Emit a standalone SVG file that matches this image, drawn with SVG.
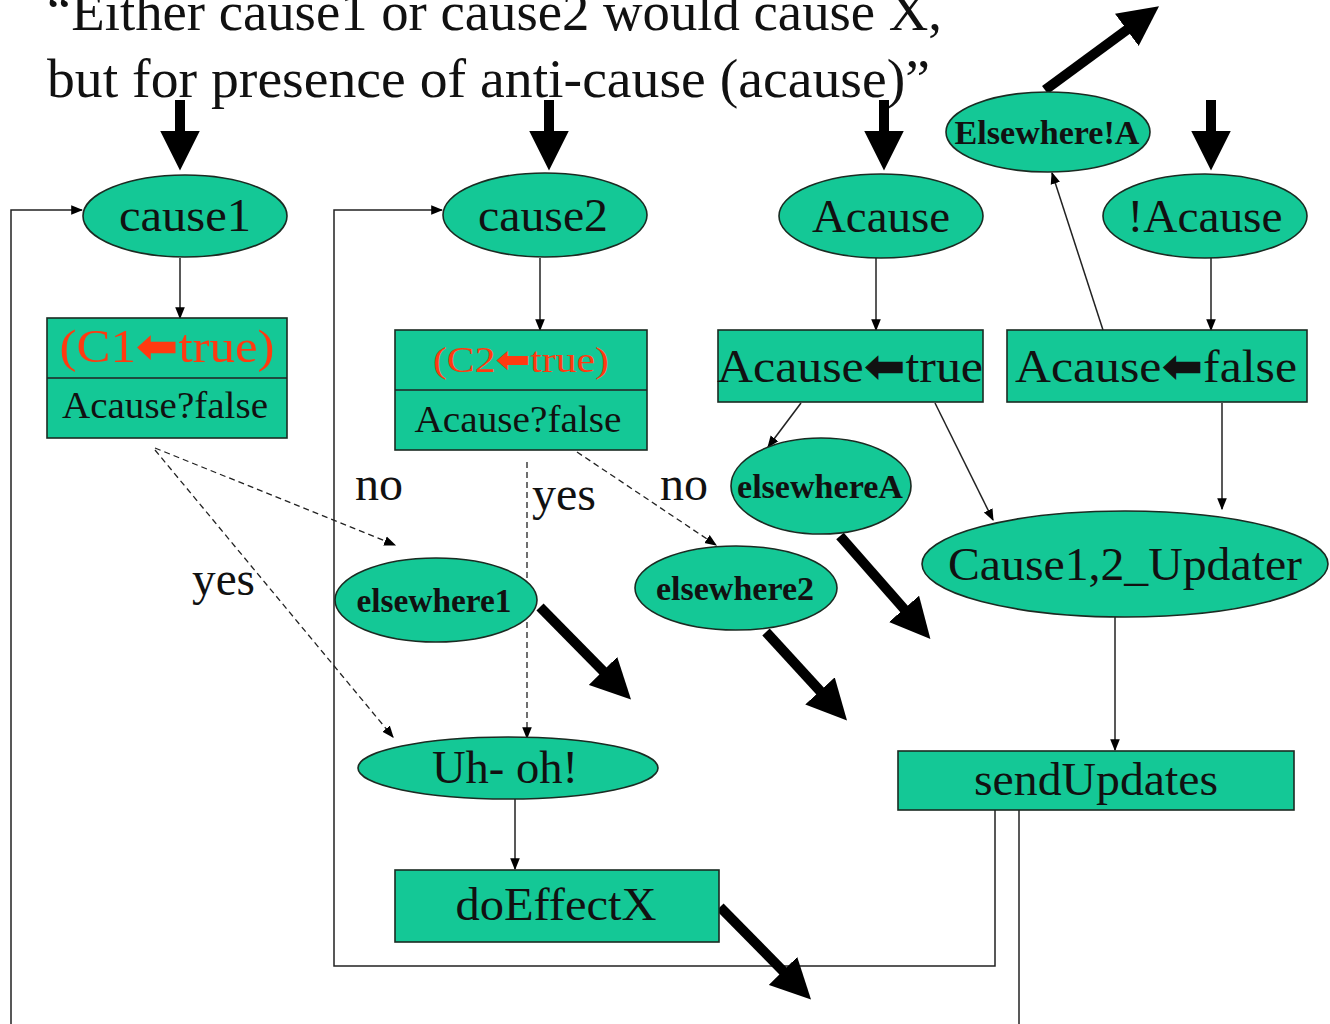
<svg xmlns="http://www.w3.org/2000/svg" width="1330" height="1024" viewBox="0 0 1330 1024">
<style>
.n{fill:#14C896;stroke:#1b2b22;stroke-width:1.6}
.t{font-family:"Liberation Serif","Times New Roman",serif;fill:#111;text-anchor:middle}
.b{font-weight:bold}
.red{fill:#FF3A10}
.ar{font-family:"DejaVu Sans",sans-serif;font-weight:bold}
.c{fill:none;stroke:#222;stroke-width:1.5}
.d{fill:none;stroke:#222;stroke-width:1.3;stroke-dasharray:6 4}
.k{fill:none;stroke:#000;stroke-width:10}
.lab{font-family:"Liberation Serif","Times New Roman",serif;fill:#111;font-size:48px}
</style>
<defs>
<marker id="a" markerUnits="userSpaceOnUse" markerWidth="12" markerHeight="12" viewBox="0 0 10 10" refX="9" refY="5" orient="auto"><path d="M0,1 L10,5 L0,9 z" fill="#000"/></marker>
<marker id="K" markerUnits="strokeWidth" markerWidth="4" markerHeight="4" viewBox="0 0 4 4" refX="0.15" refY="2" orient="auto"><path d="M0,0 L4,2 L0,4 z" fill="#000"/></marker>
</defs>
<rect width="1330" height="1024" fill="#fff"/>
<g id="title">
<text class="lab" x="47" y="30" textLength="895" lengthAdjust="spacingAndGlyphs" style="font-size:54px">“Either cause1 or cause2 would cause X,</text>
<text class="lab" x="47" y="97" textLength="883" lengthAdjust="spacingAndGlyphs" style="font-size:54px">but for presence of anti-cause (acause)”</text>
</g>
<g id="connectors">
<line class="c" x1="180" y1="258" x2="180" y2="318" marker-end="url(#a)"/>
<line class="c" x1="540" y1="258" x2="540" y2="330" marker-end="url(#a)"/>
<line class="c" x1="876" y1="258" x2="876" y2="330" marker-end="url(#a)"/>
<line class="c" x1="1211" y1="258" x2="1211" y2="330" marker-end="url(#a)"/>
<line class="c" x1="1103" y1="330" x2="1052" y2="173" marker-end="url(#a)"/>
<line class="c" x1="801" y1="403" x2="768" y2="447" marker-end="url(#a)"/>
<line class="c" x1="935" y1="403" x2="993" y2="520" marker-end="url(#a)"/>
<line class="c" x1="1222" y1="403" x2="1222" y2="509" marker-end="url(#a)"/>
<line class="c" x1="1115" y1="617" x2="1115" y2="750" marker-end="url(#a)"/>
<line class="c" x1="515" y1="799" x2="515" y2="869" marker-end="url(#a)"/>
<line class="d" x1="155" y1="448" x2="395" y2="545" marker-end="url(#a)"/>
<line class="d" x1="155" y1="450" x2="393" y2="737" marker-end="url(#a)"/>
<line class="d" x1="527" y1="462" x2="527" y2="738" marker-end="url(#a)"/>
<line class="d" x1="577" y1="452" x2="716" y2="545" marker-end="url(#a)"/>
<polyline class="c" points="995,810 995,966 334,966 334,210 442,210" marker-end="url(#a)"/>
<polyline class="c" points="1019,810 1019,1024"/>
<polyline class="c" points="11,1024 11,210 82,210" marker-end="url(#a)"/>
<line class="k" x1="180" y1="100" x2="180" y2="132" marker-end="url(#K)"/>
<line class="k" x1="549" y1="100" x2="549" y2="132" marker-end="url(#K)"/>
<line class="k" x1="884" y1="100" x2="884" y2="132" marker-end="url(#K)"/>
<line class="k" x1="1211" y1="100" x2="1211" y2="132" marker-end="url(#K)"/>
<line class="k" x1="1045" y1="90" x2="1128" y2="29" marker-end="url(#K)"/>
<line class="k" x1="540" y1="607" x2="604" y2="672" marker-end="url(#K)"/>
<line class="k" x1="766" y1="632" x2="821" y2="692" marker-end="url(#K)"/>
<line class="k" x1="840" y1="536" x2="905" y2="610" marker-end="url(#K)"/>
<line class="k" x1="720" y1="907" x2="784" y2="972" marker-end="url(#K)"/>
<text class="lab" x="355" y="500" textLength="48" lengthAdjust="spacingAndGlyphs">no</text>
<text class="lab" x="192" y="595" textLength="63" lengthAdjust="spacingAndGlyphs">yes</text>
<text class="lab" x="532" y="510" textLength="64" lengthAdjust="spacingAndGlyphs">yes</text>
<text class="lab" x="660" y="500" textLength="48" lengthAdjust="spacingAndGlyphs">no</text>
</g>
<g id="cause1"><ellipse class="n" cx="185" cy="216" rx="102" ry="41"/><text class="t" x="185" y="231" font-size="46" textLength="132" lengthAdjust="spacingAndGlyphs">cause1</text></g>
<g id="cause2"><ellipse class="n" cx="545" cy="215" rx="102" ry="42"/><text class="t" x="543" y="231" font-size="46" textLength="130" lengthAdjust="spacingAndGlyphs">cause2</text></g>
<g id="Acause"><ellipse class="n" cx="881" cy="216" rx="102" ry="42"/><text class="t" x="881" y="232" font-size="46" textLength="138" lengthAdjust="spacingAndGlyphs">Acause</text></g>
<g id="notAcause"><ellipse class="n" cx="1205" cy="216" rx="102" ry="42"/><text class="t" x="1205" y="232" font-size="46" textLength="155" lengthAdjust="spacingAndGlyphs">!Acause</text></g>
<g id="ElsewhereNotA"><ellipse class="n" cx="1048" cy="132" rx="102" ry="40"/><text class="t b" x="1047" y="144" font-size="34" textLength="185" lengthAdjust="spacingAndGlyphs">Elsewhere!A</text></g>
<g id="C1"><rect class="n" x="47" y="318" width="240" height="120"/><line class="c" x1="47" y1="378" x2="287" y2="378"/><text class="t red" x="167" y="362" font-size="46" textLength="215" lengthAdjust="spacingAndGlyphs">(C1<tspan class="ar">⬅</tspan>true)</text><text class="t" x="165" y="418" font-size="38" textLength="206" lengthAdjust="spacingAndGlyphs">Acause?false</text></g>
<g id="C2"><rect class="n" x="395" y="330" width="252" height="120"/><line class="c" x1="395" y1="390" x2="647" y2="390"/><text class="t red" x="521" y="372" font-size="36" textLength="176" lengthAdjust="spacingAndGlyphs">(C2<tspan class="ar">⬅</tspan>true)</text><text class="t" x="518" y="432" font-size="38" textLength="207" lengthAdjust="spacingAndGlyphs">Acause?false</text></g>
<g id="AcauseTrue"><rect class="n" x="718" y="330" width="265" height="72"/><text class="t" x="850" y="382" font-size="46" textLength="266" lengthAdjust="spacingAndGlyphs">Acause<tspan class="ar">⬅</tspan>true</text></g>
<g id="AcauseFalse"><rect class="n" x="1007" y="330" width="300" height="72"/><text class="t" x="1156" y="382" font-size="46" textLength="282" lengthAdjust="spacingAndGlyphs">Acause<tspan class="ar">⬅</tspan>false</text></g>
<g id="elsewhereA"><ellipse class="n" cx="821" cy="486" rx="90" ry="48"/><text class="t b" x="820" y="498" font-size="34" textLength="166" lengthAdjust="spacingAndGlyphs">elsewhereA</text></g>
<g id="Updater"><ellipse class="n" cx="1125" cy="564" rx="203" ry="53"/><text class="t" x="1125" y="580" font-size="46" textLength="354" lengthAdjust="spacingAndGlyphs">Cause1,2_Updater</text></g>
<g id="elsewhere1"><ellipse class="n" cx="436" cy="600" rx="101" ry="42"/><text class="t b" x="434" y="612" font-size="34" textLength="155" lengthAdjust="spacingAndGlyphs">elsewhere1</text></g>
<g id="elsewhere2"><ellipse class="n" cx="736" cy="588" rx="101" ry="42"/><text class="t b" x="735" y="600" font-size="34" textLength="158" lengthAdjust="spacingAndGlyphs">elsewhere2</text></g>
<g id="UhOh"><ellipse class="n" cx="508" cy="768" rx="150" ry="31"/><text class="t" x="505" y="783" font-size="46" textLength="146" lengthAdjust="spacingAndGlyphs">Uh- oh!</text></g>
<g id="doEffectX"><rect class="n" x="395" y="870" width="324" height="72"/><text class="t" x="556" y="920" font-size="46" textLength="201" lengthAdjust="spacingAndGlyphs">doEffectX</text></g>
<g id="sendUpdates"><rect class="n" x="898" y="751" width="396" height="59"/><text class="t" x="1096" y="795" font-size="46" textLength="244" lengthAdjust="spacingAndGlyphs">sendUpdates</text></g>
</svg>
